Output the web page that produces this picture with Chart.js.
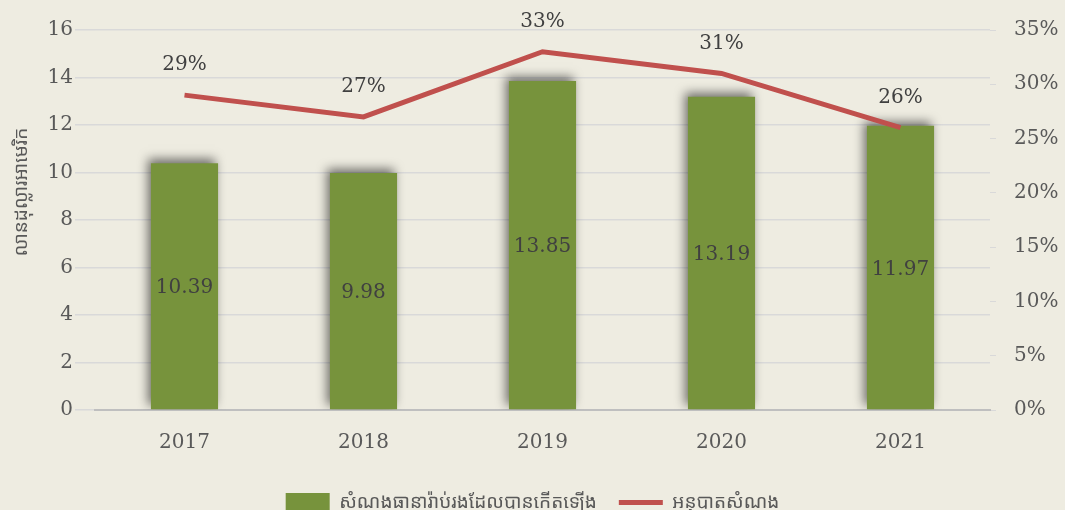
<!DOCTYPE html>
<html>
<head>
<meta charset="utf-8">
<script src="https://cdn.jsdelivr.net/npm/chart.js@4.4.1/dist/chart.umd.min.js"></script>
<style>
  html, body { margin:0; padding:0; background:#EEECE1; }
  #wrap { width:1065px; height:510px; }
</style>
</head>
<body>
<div id="wrap"><canvas id="c" width="1065" height="510"></canvas></div>
<script>
/* data */
const years = ['2017', '2018', '2019', '2020', '2021'];
const claimsIncurred = [10.39, 9.98, 13.85, 13.19, 11.97];   // million USD
const lossRatio = [29, 27, 33, 31, 26];                       // %
const leftTicks = [0, 2, 4, 6, 8, 10, 12, 14, 16];
const rightTicks = [0, 5, 10, 15, 20, 25, 30, 35];

const barLabel = 'សំណងធានារ៉ាប់រងដែលបានកើតឡើង';
const lineLabel = 'អនុបាតសំណង';
const yTitle = 'លានដុល្លារអាមេរិក';

const SERIF = "'DejaVu Serif','Liberation Serif',serif";
const KHMER = "'Noto Sans Khmer','Noto Serif Khmer','Khmer OS','Noto Sans','DejaVu Sans',sans-serif";

Chart.defaults.font.family = SERIF;
Chart.defaults.color = '#595959';

/* soft shadow behind the bars */
const barShadow = {
  id: 'barShadow',
  beforeDatasetDraw(chart, args){
    if(args.index !== 0) return;
    const ctx = chart.ctx;
    ctx.save();
    ctx.shadowColor = 'rgba(0,0,0,0.55)';
    ctx.shadowBlur = 10;
    ctx.shadowOffsetX = -3;
    ctx.shadowOffsetY = -4;
  },
  afterDatasetDraw(chart, args){
    if(args.index !== 0) return;
    chart.ctx.restore();
  }
};

/* value labels + rotated axis title (placed a bit above centre, like the original) */
const valueLabels = {
  id: 'valueLabels',
  afterDatasetsDraw(chart){
    const ctx = chart.ctx;
    ctx.save();
    ctx.font = "20px " + SERIF;
    ctx.fillStyle = '#404040';
    ctx.textAlign = 'center';
    ctx.textBaseline = 'middle';
    chart.getDatasetMeta(0).data.forEach((bar, i) => {
      const mid = (bar.y + bar.base) / 2;
      ctx.fillText(claimsIncurred[i].toFixed(2), bar.x, mid + 2);
    });
    chart.getDatasetMeta(1).data.forEach((pt, i) => {
      ctx.fillText(lossRatio[i] + '%', pt.x, pt.y - 30);
    });
    ctx.restore();

    ctx.save();
    ctx.translate(22, 192);
    ctx.rotate(-Math.PI / 2);
    ctx.font = "19px " + KHMER;
    ctx.fillStyle = '#595959';
    ctx.textAlign = 'center';
    ctx.textBaseline = 'middle';
    ctx.fillText(yTitle, 0, 0);
    ctx.restore();
  }
};

new Chart(document.getElementById('c'), {
  data: {
    labels: years,
    datasets: [
      {
        type: 'bar',
        label: barLabel,
        data: claimsIncurred,
        backgroundColor: '#77933C',
        borderWidth: 0,
        barPercentage: 0.75,
        categoryPercentage: 0.5,
        yAxisID: 'y',
        order: 2,
        pointStyle: 'rect',
      },
      {
        type: 'line',
        label: lineLabel,
        data: lossRatio,
        borderColor: '#C0504D',
        backgroundColor: '#C0504D',
        borderWidth: 5,
        pointRadius: 0,
        tension: 0,
        yAxisID: 'y1',
        order: 1,
        pointStyle: 'line',
      },
    ],
  },
  options: {
    responsive: false,
    animation: false,
    layout: { padding: { top: 23, left: 4, right: 4, bottom: -12 } },
    plugins: {
      legend: {
        position: 'bottom',
        labels: {
          usePointStyle: true,
          pointStyleWidth: 44,
          boxHeight: 21,
          padding: 22,
          color: '#595959',
          font: { family: KHMER, size: 19 },
          sort: (a, b) => a.datasetIndex - b.datasetIndex,
        },
      },
      tooltip: { enabled: false },
    },
    scales: {
      x: {
        grid: { display: false },
        border: { color: '#BFBFBF', width: 2 },
        ticks: { color: '#595959', font: { size: 20 }, padding: 13 },
        afterFit: s => { s.height += 3; },
      },
      y: {
        position: 'left',
        min: 0, max: 16,
        afterBuildTicks: s => { s.ticks = leftTicks.map(v => ({ value: v })); },
        grid: { color: '#D9D9D9', lineWidth: 1.5, tickLength: 20, drawTicks: true },
        border: { display: false },
        ticks: { color: '#595959', font: { size: 20 }, padding: 2 },
        afterFit: s => { s.width = 91; },
      },
      y1: {
        position: 'right',
        min: 0, max: 35,
        afterBuildTicks: s => { s.ticks = rightTicks.map(v => ({ value: v })); },
        grid: { drawOnChartArea: false, color: '#D9D9D9', tickLength: 6 },
        border: { display: false },
        ticks: { color: '#595959', font: { size: 20 }, padding: 18, callback: v => v + '%' },
        afterFit: s => { s.width = 71; },
      },
    },
  },
  plugins: [barShadow, valueLabels],
});
</script>
</body>
</html>
